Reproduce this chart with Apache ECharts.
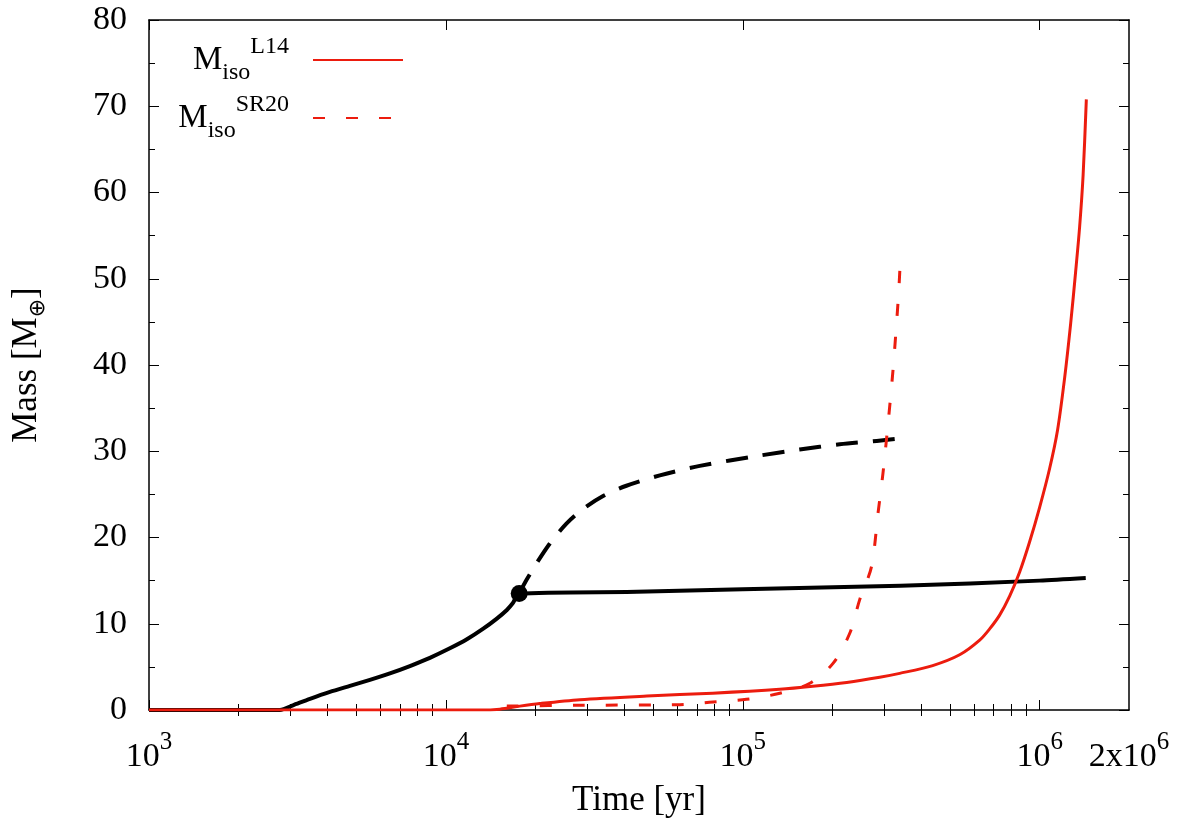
<!DOCTYPE html>
<html>
<head>
<meta charset="utf-8">
<script src="https://cdn.jsdelivr.net/npm/echarts@6.0.0/dist/echarts.min.js"></script>
<style>
html,body{margin:0;padding:0;background:#fff;}
#chart{width:1200px;height:834px;}
</style>
</head>
<body>
<div id="chart"></div>
<script>
// ---- data (time in yr, mass in Earth masses) ----
const coreT = [1000, 2000, 2761, 3054, 3485, 4069, 4753, 5548, 6478, 7565, 8834, 10315, 11770, 13325, 14847, 16049, 16815, 17660, 44000, 100000, 340000, 1000000, 1430000];
const coreM = [0, 0, 0, 0.55, 1.3, 2.1, 2.8, 3.5, 4.25, 5.1, 6.05, 7.15, 8.2, 9.4, 10.6, 11.6, 12.4, 13.5, 13.7, 14.0, 14.4, 15.0, 15.3];

const envT = [17660, 18700, 20200, 22400, 25470, 28980, 33850, 40560, 52560, 71640, 114100, 155500, 212200, 282600, 343100];
const envM = [13.5, 15.1, 17.0, 19.3, 21.6, 23.3, 24.8, 26.0, 27.2, 28.3, 29.5, 30.2, 30.8, 31.2, 31.5];

const isoL14T = [1000, 13020, 15200, 17750, 20730, 28270, 47530, 79250, 133200, 172100, 224000, 289300, 337800, 436300, 537800, 628100, 678500, 733200, 792500, 856500, 925400, 1000000, 1080600, 1149700, 1214000, 1272000, 1322000, 1363600, 1401000, 1436600];
const isoL14M = [0, 0, 0.1, 0.45, 0.75, 1.2, 1.62, 1.95, 2.4, 2.75, 3.2, 3.8, 4.25, 5.15, 6.4, 8.1, 9.4, 11.0, 13.2, 16.0, 19.5, 23.5, 28.0, 32.5, 38.5, 44.8, 50.8, 56.0, 62.0, 70.8];

const isoSR20T = [16040, 28270, 61380, 79430, 102900, 133300, 168300, 201400, 229300, 247700, 271300, 285500, 296800, 304700, 312600, 320700, 328300, 335200, 340400];
const isoSR20M = [0.46, 0.55, 0.62, 0.93, 1.24, 1.94, 3.1, 5.4, 8.9, 12.8, 16.6, 22.8, 27.5, 31.3, 35.2, 39.4, 44.0, 48.5, 53.0];

const crossoverT = [17660];
const crossoverM = [13.5];

// ---- ticks ----
const xLabelValues = [1000, 10000, 100000, 1000000, 2000000];
const xMajorTicks = [1000, 10000, 100000, 1000000];
const xMinorTicks = [2000, 3000, 4000, 5000, 6000, 7000, 8000, 9000,
                     20000, 30000, 40000, 50000, 60000, 70000, 80000, 90000,
                     200000, 300000, 400000, 500000, 600000, 700000, 800000, 900000];
const yMin = 0, yMax = 80, yStep = 10;

const seriesNames = {L14: 'M_iso^L14', SR20: 'M_iso^SR20'};

function zip(a, b) { return a.map((v, i) => [v, b[i]]); }

const serif = "'Liberation Serif','Times New Roman',serif";
const RED = '#ec1c0e';
const BLACK = '#000000';

function fmtX(v) {
  const e = Math.floor(Math.log10(v) + 1e-9);
  const mant = Math.round(v / Math.pow(10, e));
  return mant === 1 ? '{b|10}{s|' + e + '}' : '{b|' + mant + 'x10}{s|' + e + '}';
}

const xBase = {
  type: 'log', logBase: 10, min: 1000, max: 2000000,
  splitLine: {show: false},
  axisLine: {show: true, onZero: false, lineStyle: {color: BLACK, width: 1.5}}
};

const yBase = {
  type: 'value', min: yMin, max: yMax, interval: yStep,
  splitLine: {show: false},
  axisLine: {show: true, onZero: false, lineStyle: {color: BLACK, width: 1.5}},
  axisTick: {show: true, inside: true, length: 10, lineStyle: {color: BLACK, width: 1}},
  minorTick: {show: true, splitNumber: 2, length: 6, lineStyle: {color: BLACK, width: 1}}
};

const legendRich = {
  m: {fontFamily: serif, fontSize: 33, color: BLACK, lineHeight: 50, verticalAlign: 'middle'},
  sub: {fontFamily: serif, fontSize: 24, color: BLACK, lineHeight: 20, verticalAlign: 'bottom'},
  sup: {fontFamily: serif, fontSize: 24, color: BLACK, lineHeight: 20, verticalAlign: 'top'}
};
function legendFmt(name) {
  const parts = name.split('^');
  return '{m|M}{sub|iso}{sup|' + parts[1] + '}';
}
const legendBase = {
  orient: 'vertical', align: 'right', right: 791, itemWidth: 90, itemHeight: 20,
  formatter: legendFmt,
  itemStyle: {opacity: 0},
  textStyle: {rich: legendRich, padding: [0, 19, 0, 0]}
};

const chart = echarts.init(document.getElementById('chart'), null, {renderer: 'canvas'});
chart.setOption({
  animation: false,
  backgroundColor: '#ffffff',
  grid: {left: 149, right: 71, top: 20, bottom: 124, containLabel: false},
  legend: [
    Object.assign({}, legendBase, {data: [seriesNames.L14], top: 30}),
    Object.assign({}, legendBase, {data: [seriesNames.SR20], top: 88})
  ],
  xAxis: [
    Object.assign({}, xBase, {
      position: 'bottom',
      axisTick: {show: true, inside: true, length: 10, customValues: xMajorTicks, lineStyle: {color: BLACK, width: 1}},
      axisLabel: {
        show: true, margin: 20, customValues: xLabelValues, formatter: fmtX,
        rich: {
          b: {fontFamily: serif, fontSize: 34, color: BLACK, lineHeight: 44, verticalAlign: 'bottom'},
          s: {fontFamily: serif, fontSize: 25, color: BLACK, lineHeight: 16, verticalAlign: 'top'}
        }
      },
      name: 'Time [yr]', nameLocation: 'middle', nameGap: 73,
      nameTextStyle: {fontFamily: serif, fontSize: 35, color: BLACK}
    }),
    Object.assign({}, xBase, {
      position: 'bottom', axisLine: {show: false},
      axisTick: {show: true, inside: true, length: 6, customValues: xMinorTicks, lineStyle: {color: BLACK, width: 1}},
      axisLabel: {show: false}
    }),
    Object.assign({}, xBase, {
      position: 'top',
      axisTick: {show: true, inside: true, length: 10, customValues: xMajorTicks, lineStyle: {color: BLACK, width: 1}},
      axisLabel: {show: false}
    }),
    Object.assign({}, xBase, {
      position: 'top', axisLine: {show: false},
      axisTick: {show: true, inside: true, length: 6, customValues: xMinorTicks, lineStyle: {color: BLACK, width: 1}},
      axisLabel: {show: false}
    })
  ],
  yAxis: [
    Object.assign({}, yBase, {
      position: 'left',
      axisLabel: {show: true, margin: 22, fontFamily: serif, fontSize: 34, color: BLACK},
      name: '{n|Mass [M}{sub|⊕}{n|]}', nameLocation: 'middle', nameGap: 100, nameRotate: 90,
      nameTextStyle: {
        rich: {
          n: {fontFamily: serif, fontSize: 35, color: BLACK, lineHeight: 44, verticalAlign: 'middle'},
          sub: {fontFamily: "'DejaVu Sans', serif", fontSize: 22, color: BLACK, lineHeight: 24, verticalAlign: 'bottom'}
        }
      }
    }),
    Object.assign({}, yBase, {position: 'right', axisLabel: {show: false}})
  ],
  series: [
    {
      name: 'core', type: 'line', xAxisIndex: 0, yAxisIndex: 0,
      data: zip(coreT, coreM), symbol: 'none', smooth: 0.25,
      lineStyle: {color: BLACK, width: 4, join: 'round'}, itemStyle: {color: BLACK}, z: 3
    },
    {
      name: 'envelope', type: 'line', xAxisIndex: 0, yAxisIndex: 0,
      data: zip(envT, envM), symbol: 'none', smooth: 0.3,
      lineStyle: {color: BLACK, width: 4, type: [22, 15], join: 'round'}, itemStyle: {color: BLACK}, z: 3
    },
    {
      name: seriesNames.L14, type: 'line', xAxisIndex: 0, yAxisIndex: 0,
      data: zip(isoL14T, isoL14M), symbol: 'none', smooth: 0.3,
      lineStyle: {color: RED, width: 3, join: 'round'}, itemStyle: {color: RED}, z: 4
    },
    {
      name: seriesNames.SR20, type: 'line', xAxisIndex: 0, yAxisIndex: 0,
      data: zip(isoSR20T, isoSR20M), symbol: 'none', smooth: 0.3,
      lineStyle: {color: RED, width: 3, type: [12, 21], join: 'round'}, itemStyle: {color: RED}, z: 4
    },
    {
      name: 'crossover', type: 'scatter', xAxisIndex: 0, yAxisIndex: 0,
      data: zip(crossoverT, crossoverM), symbol: 'circle', symbolSize: 17,
      itemStyle: {color: BLACK, opacity: 1}, z: 6
    }
  ]
});
</script>
</body>
</html>
